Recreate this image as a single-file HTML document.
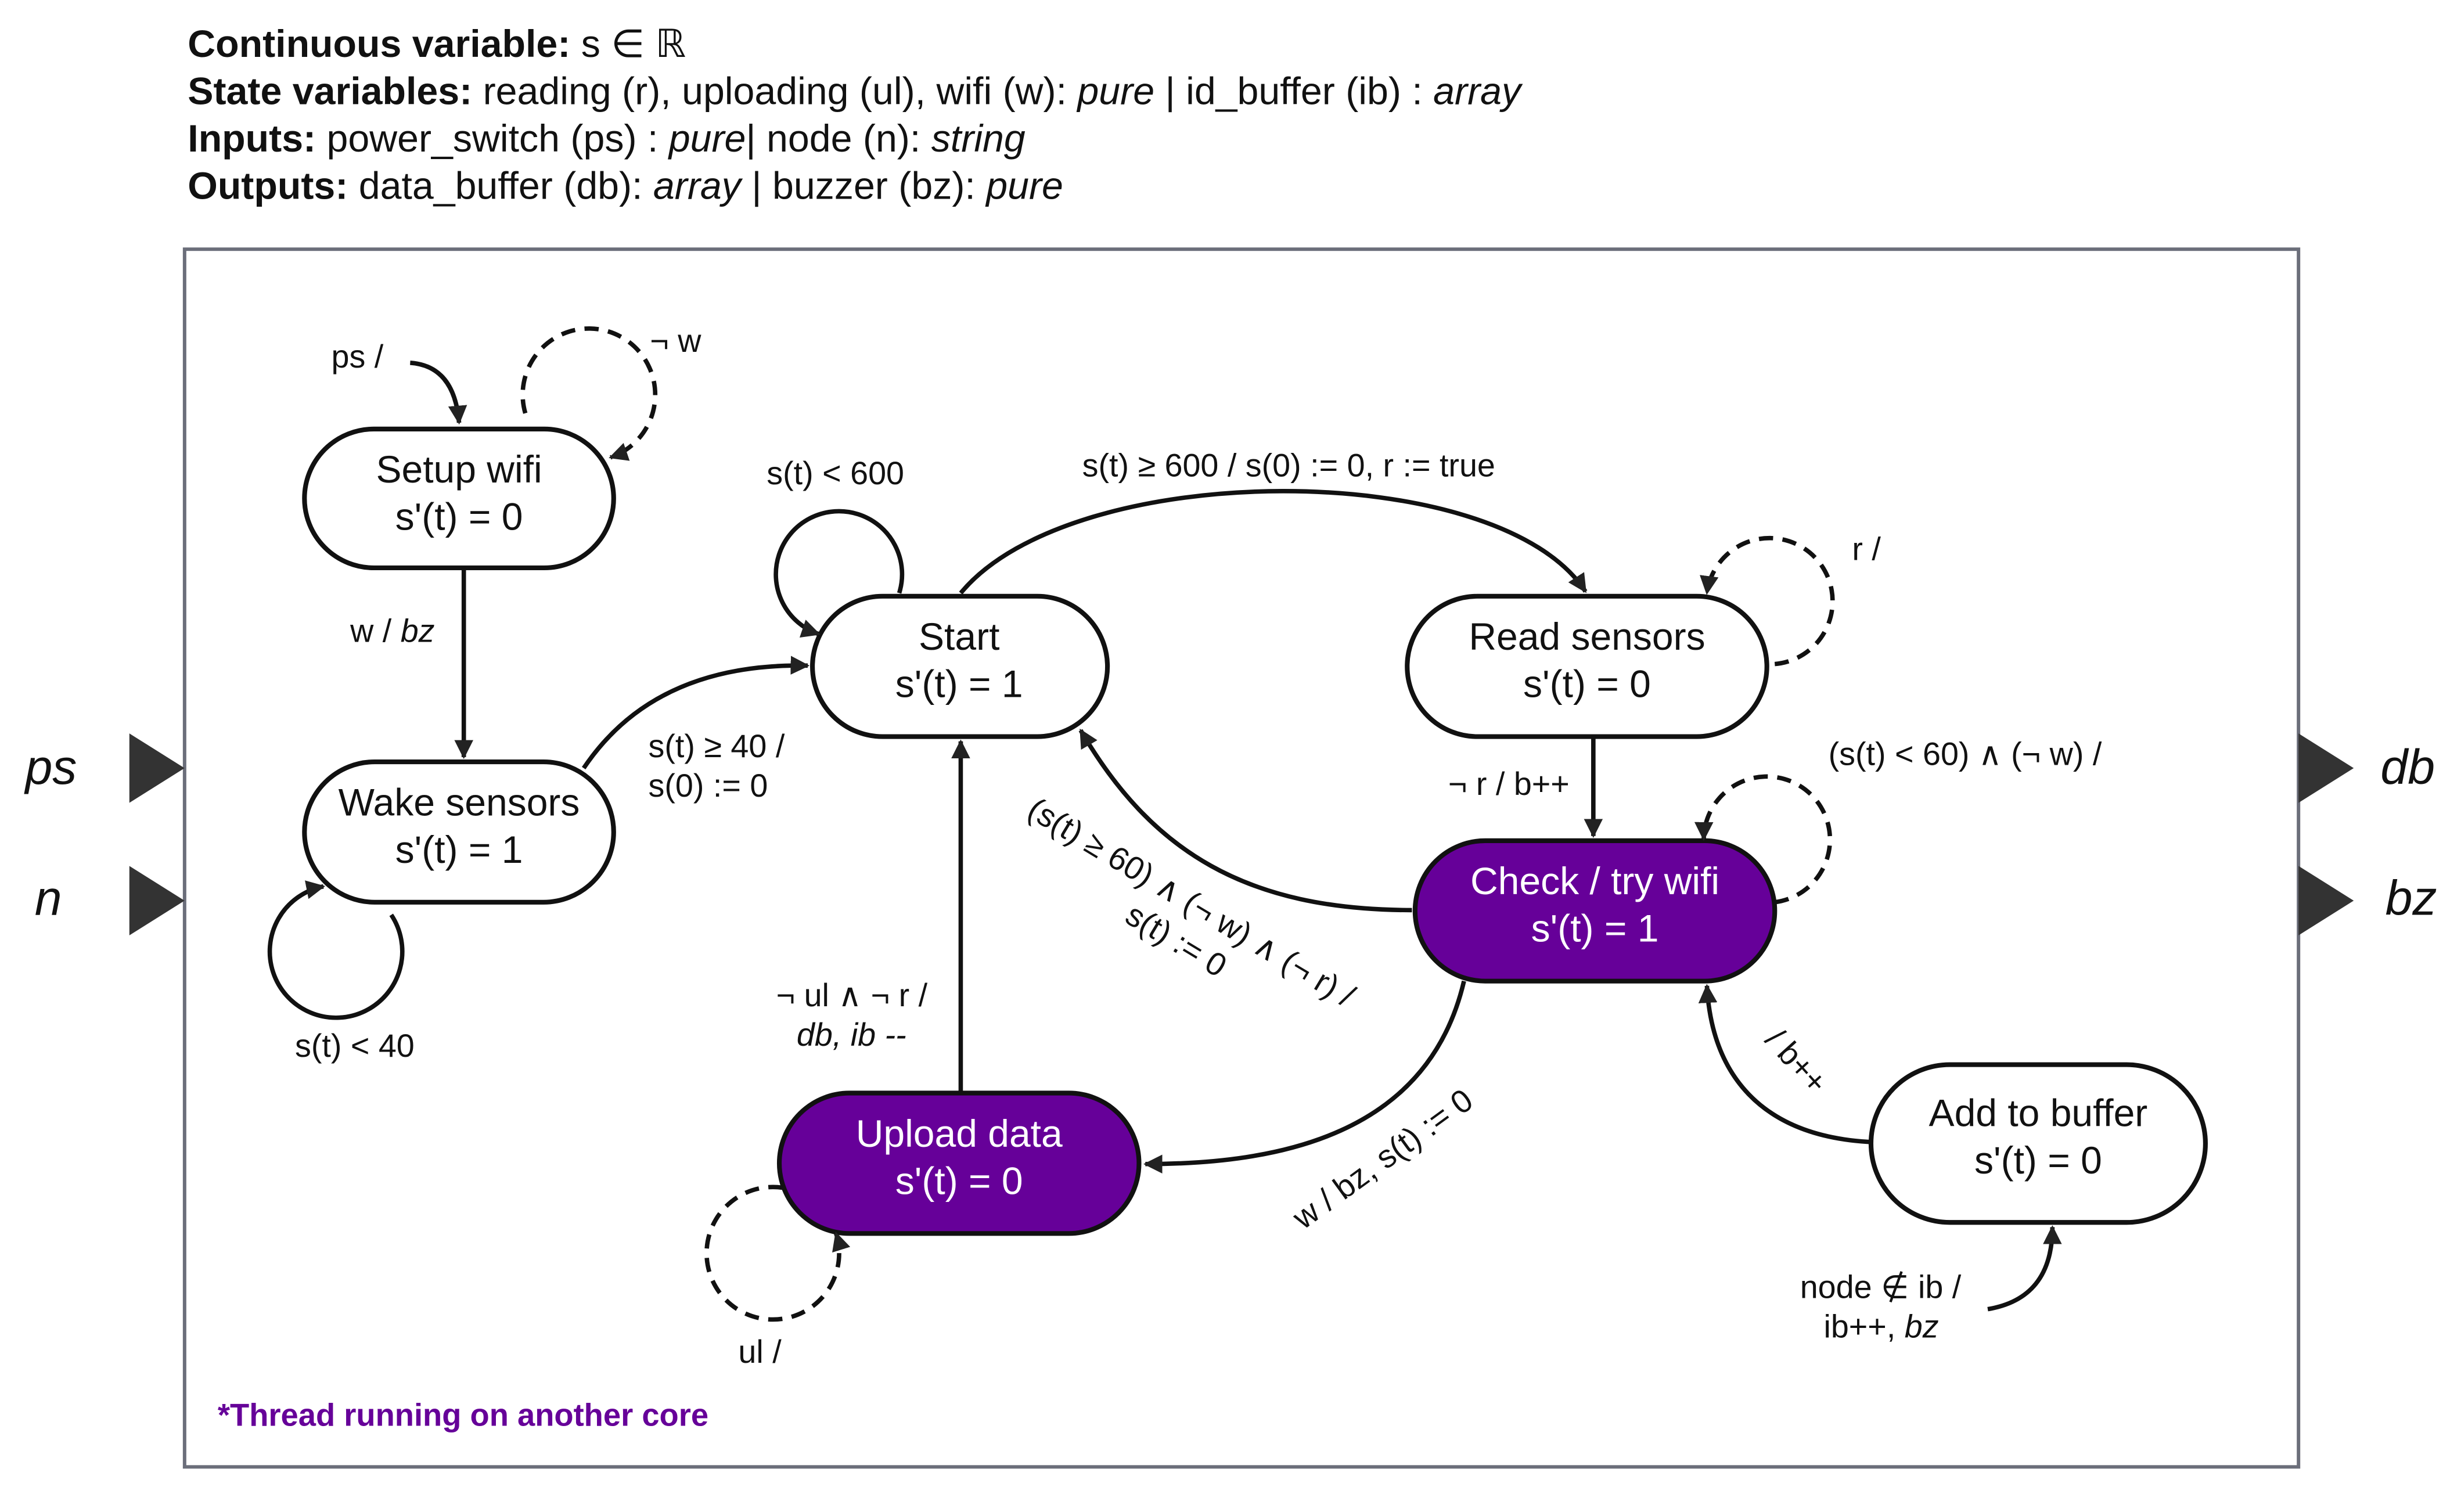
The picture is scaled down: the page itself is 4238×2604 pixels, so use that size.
<!DOCTYPE html>
<html><head><meta charset="utf-8"><style>
html,body{margin:0;padding:0;background:#fff;}
svg{display:block;}
text{font-family:"Liberation Sans",sans-serif;fill:#111;}
</style></head><body>
<svg width="4238" height="2604" viewBox="0 0 1560 958.6" preserveAspectRatio="none" xmlns="http://www.w3.org/2000/svg">
<defs>
<marker id="b" viewBox="0 0 10 10" refX="9" refY="5" markerWidth="12" markerHeight="12" orient="auto" markerUnits="userSpaceOnUse">
<path d="M0,0 L10,5 L0,10 z" fill="#222"/></marker>
</defs>
<g font-size="24.4">
<text x="119" y="36"><tspan font-weight="bold">Continuous variable:</tspan> s ∈ ℝ</text>
<text x="119" y="66"><tspan font-weight="bold">State variables:</tspan> reading (r), uploading (ul), wifi (w): <tspan font-style="italic">pure</tspan> | id_buffer (ib) : <tspan font-style="italic">array</tspan></text>
<text x="119" y="96"><tspan font-weight="bold">Inputs:</tspan> power_switch (ps) : <tspan font-style="italic">pure</tspan>| node (n): <tspan font-style="italic">string</tspan></text>
<text x="119" y="126"><tspan font-weight="bold">Outputs:</tspan> data_buffer (db): <tspan font-style="italic">array</tspan> | buzzer (bz): <tspan font-style="italic">pure</tspan></text>
</g>
<rect x="117" y="158" width="1340" height="772" fill="none" stroke="#6b6e7a" stroke-width="2.2"/>
<path d="M82,465 L117,487 L82,509 z" fill="#333"/>
<path d="M82,549 L117,571 L82,593 z" fill="#333"/>
<path d="M1457,465 L1492,487 L1457,509 z" fill="#333"/>
<path d="M1457,549 L1492,571 L1457,593 z" fill="#333"/>
<g font-size="31" font-style="italic">
<text x="16" y="497">ps</text><text x="22" y="580">n</text>
<text x="1509" y="497">db</text><text x="1512" y="580">bz</text>
</g>
<g stroke="#111" stroke-width="3" fill="#fff">
<rect x="193" y="272" width="196" height="88" rx="44"/>
<rect x="193" y="483" width="196" height="89" rx="44.5"/>
<rect x="515" y="378" width="187" height="89" rx="44.5"/>
<rect x="892" y="378" width="228" height="89" rx="44.5"/>
<rect x="897" y="533" width="228" height="89" rx="44.5" fill="#660099"/>
<rect x="494" y="693" width="228" height="89" rx="44.5" fill="#660099"/>
<rect x="1186" y="675" width="212" height="100" rx="50"/>
</g>
<g font-size="24.3" text-anchor="middle">
<text x="291" y="306">Setup wifi</text><text x="291" y="336">s'(t) = 0</text>
<text x="291" y="517">Wake sensors</text><text x="291" y="547">s'(t) = 1</text>
<text x="608" y="412">Start</text><text x="608" y="442">s'(t) = 1</text>
<text x="1006" y="412">Read sensors</text><text x="1006" y="442">s'(t) = 0</text>
<text x="1011" y="567" style="fill:#fff">Check / try wifi</text><text x="1011" y="597" style="fill:#fff">s'(t) = 1</text>
<text x="608" y="727" style="fill:#fff">Upload data</text><text x="608" y="757" style="fill:#fff">s'(t) = 0</text>
<text x="1292" y="714">Add to buffer</text><text x="1292" y="744">s'(t) = 0</text>
</g>
<g fill="none" stroke="#111" stroke-width="2.8">
<path d="M260,230 Q288,232 291,268" marker-end="url(#b)"/>
<path d="M333,262 A42,42 0 1 1 387,290" stroke-dasharray="9,6" marker-end="url(#b)"/>
<path d="M294,360 L294,480" marker-end="url(#b)"/>
<path d="M248,580 A42,42 0 1 1 205,562" marker-end="url(#b)"/>
<path d="M370,487 Q415,420 512,422" marker-end="url(#b)"/>
<path d="M570,376 A40,40 0 1 0 519,402" marker-end="url(#b)"/>
<path d="M609,376 C680,290 950,290 1005,375" marker-end="url(#b)"/>
<path d="M1125,421 A40,40 0 1 0 1082,376" stroke-dasharray="9,6" marker-end="url(#b)"/>
<path d="M1010,467 L1010,530" marker-end="url(#b)"/>
<path d="M1125,572 A40,40 0 1 0 1080,532" stroke-dasharray="9,6" marker-end="url(#b)"/>
<path d="M895,577 C790,577 730,540 685,463" marker-end="url(#b)"/>
<path d="M928,622 C905,720 810,738 726,738" marker-end="url(#b)"/>
<path d="M609,692 L609,470" marker-end="url(#b)"/>
<path d="M496,753 A42,42 0 1 0 530,782" stroke-dasharray="9,6" marker-end="url(#b)"/>
<path d="M1185,724 C1115,720 1085,680 1082,625" marker-end="url(#b)"/>
<path d="M1260,830 C1290,825 1301,805 1301,778" marker-end="url(#b)"/>
</g>
<g font-size="20.5">
<text x="210" y="233">ps /</text>
<text x="412" y="223">¬ w</text>
<text x="222" y="407">w / <tspan font-style="italic">bz</tspan></text>
<text x="187" y="670">s(t) &lt; 40</text>
<text x="411" y="480">s(t) ≥ 40 /</text>
<text x="411" y="505">s(0) := 0</text>
<text x="486" y="307">s(t) &lt; 600</text>
<text x="686" y="302">s(t) ≥ 600 / s(0) := 0, r := true</text>
<text x="1174" y="355">r /</text>
<text x="918" y="504">¬ r / b++</text>
<text x="1159" y="485">(s(t) &lt; 60) ∧ (¬ w)  /</text>
<text x="492" y="638">¬ ul ∧ ¬ r /</text>
<text x="505" y="663" font-style="italic">db, ib --</text>
<text x="468" y="864">ul /</text>
<text x="1141" y="823">node ∉ ib  /</text>
<text x="1156" y="848">ib++, <tspan font-style="italic">bz</tspan></text>
<text transform="translate(650,517) rotate(31)">(s(t) ≥ 60) ∧ (¬ w) ∧ (¬ r)  /</text>
<text transform="translate(712,584) rotate(31)">s(t) := 0</text>
<text transform="translate(826,780) rotate(-36)">w / bz, s(t) := 0</text>
<text transform="translate(1118,660) rotate(48)">/ b++</text>
</g>
<text x="138" y="904" font-size="20" font-weight="bold" style="fill:#660099">*Thread running on another core</text>
</svg>
</body></html>
